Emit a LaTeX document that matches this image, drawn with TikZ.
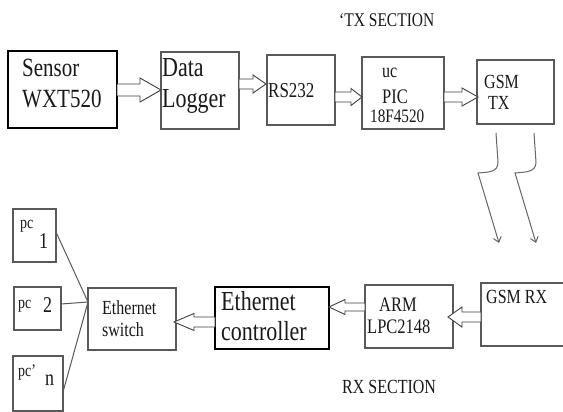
\documentclass[tikz,border=0pt]{standalone}
\usepackage{fontspec}
\setmainfont{Liberation Serif}
\usetikzlibrary{arrows.meta}
\newcommand{\vs}[1]{\scalebox{1}[1.25]{#1}}
\newcommand{\fs}[1]{\fontsize{#1}{#1}\selectfont}
% block arrow: name, tail x, y, tip x, shaft half width, head half width, head length (negative = pointing left)
\newcommand{\blockarrow}[7]{%
  \draw[blk] ({#2},{#3-#5}) coordinate (#1) -- ({#4-(#7)},{#3-#5}) -- ({#4-(#7)},{#3-#6}) -- ({#4},{#3}) -- ({#4-(#7)},{#3+#6}) -- ({#4-(#7)},{#3+#5}) -- ({#2},{#3+#5}) -- cycle;}
\begin{document}
\begin{tikzpicture}[x=1pt,y=-1pt,
  box/.style={draw=black!65, line width=1.2pt, rectangle, inner sep=0pt},
  bbox/.style={draw=black, line width=1.2pt, rectangle, inner sep=0pt},
  txt/.style={inner sep=0pt, anchor=base west, text=black!90},
  blk/.style={draw=black!75, fill=white, line width=0.9pt, line join=miter},
  wave/.style={draw=black!60, line width=1pt, -{Straight Barb[length=5pt,width=8pt]}},
  wire/.style={draw=black!65, line width=1pt}]
\clip (0,0) rectangle (563,412);
\fill[white] (0,0) rectangle (563,412);

% boxes
\node[bbox, minimum width=109, minimum height=77] (sensor) at (62.5,89.5) {};
\node[box, minimum width=78, minimum height=77] (logger) at (200,90.5) {};
\node[box, minimum width=68, minimum height=70] (rs) at (301,90) {};
\node[box, minimum width=82, minimum height=72] (pic) at (403,93) {};
\node[box, minimum width=77, minimum height=64] (gsmtx) at (515.5,92) {};
\node[box, minimum width=43, minimum height=53] (pc1) at (34.5,235.5) {};
\node[box, minimum width=47, minimum height=43] (pc2) at (37.5,308.5) {};
\node[box, minimum width=50, minimum height=55] (pcn) at (38,383.5) {};
\node[box, minimum width=88, minimum height=62] (switch) at (132,319) {};
\node[bbox, minimum width=114, minimum height=62] (ctrl) at (272,318) {};
\node[box, minimum width=88, minimum height=63] (arm) at (409,316.5) {};
\node[box, minimum width=94, minimum height=63] (gsmrx) at (528,314.5) {};

% texts
\node[txt] (t1) at (22,77) {\fs{21}\vs{Sensor}};
\node[txt] (t2) at (22,108) {\fs{21}\vs{WXT520}};
\node[txt] (t3) at (162,77) {\fs{22}\vs{Data}};
\node[txt] (t4) at (162,108) {\fs{22}\vs{Logger}};
\node[txt] (t5) at (268,98) {\fs{17}\vs{RS232}};
\node[txt] (t6) at (382,78) {\fs{16}\vs{uc}};
\node[txt] (t7) at (382,103) {\fs{16.5}\vs{PIC}};
\node[txt] (t8) at (370,123) {\fs{15.2}\vs{18F4520}};
\node[txt] (t9) at (484,89) {\fs{16}\vs{GSM}};
\node[txt] (t10) at (488,110) {\fs{16}\vs{TX}};
\node[txt] (t11) at (339,27) {\fs{15.5}\vs{`TX SECTION}};
\node[txt] (t12) at (102,314) {\fs{16}\vs{Ethernet}};
\node[txt] (t13) at (102,336) {\fs{16}\vs{switch}};
\node[txt] (t14) at (221,310) {\fs{22}\vs{Ethernet}};
\node[txt] (t15) at (221,340) {\fs{22}\vs{controller}};
\node[txt] (t16) at (379,311) {\fs{16.5}\vs{ARM}};
\node[txt] (t17) at (367,333) {\fs{16.5}\vs{LPC2148}};
\node[txt] (t18) at (486,303) {\fs{16}\vs{GSM RX}};
\node[txt] (t19) at (342,393) {\fs{16}\vs{RX SECTION}};
\node[txt] (t20) at (20,228) {\fs{14}\vs{pc}};
\node[txt] (t21) at (39,248) {\fs{18}\vs{1}};
\node[txt] (t22) at (18,308) {\fs{14}\vs{pc}};
\node[txt] (t23) at (43,312) {\fs{18}\vs{2}};
\node[txt] (t24) at (18,376) {\fs{14}\vs{pc'}};
\node[txt] (t25) at (45,385) {\fs{18}\vs{n}};

% block arrows (hollow)
\blockarrow{a1}{117}{90}{161}{6}{12}{21}
\blockarrow{a2}{239}{84}{266}{5}{9}{13}
\blockarrow{a3}{335}{97}{362}{5}{8.5}{11}
\blockarrow{a4}{444}{97}{478}{5}{9}{16}
\blockarrow{a5}{481}{317}{448}{5}{10}{-14}
\blockarrow{a6}{365}{307}{329}{4}{7.5}{-16}
\blockarrow{a7}{215}{322}{174}{5}{8.5}{-20}

% wires from PCs to switch
\coordinate (hub) at (88,302);
\coordinate (p1) at (56,232);
\coordinate (p2) at (61,304);
\coordinate (p3) at (63,392);
\draw[wire] (p1) -- (hub);
\draw[wire] (p2) -- (hub);
\draw[wire] (p3) -- (hub);

% wireless arrows
\coordinate (w1a) at (496,133);
\coordinate (w1b) at (499,243);
\coordinate (w2a) at (534,133);
\coordinate (w2b) at (536,243);
\draw[wave] (w1a) .. controls (497,148) .. (498,162) .. controls (498,172) and (490,172) .. (478,173) -- (w1b);
\draw[wave] (w2a) .. controls (535,148) .. (536,162) .. controls (536,172) and (527,172) .. (515,173) -- (w2b);
\end{tikzpicture}
\end{document}
